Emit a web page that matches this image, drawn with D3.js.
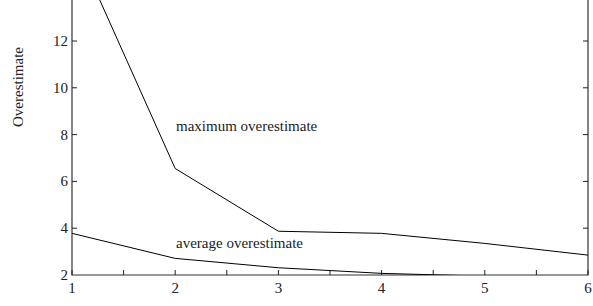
<!DOCTYPE html>
<html>
<head>
<meta charset="utf-8">
<script src="https://cdn.jsdelivr.net/npm/d3@7"></script>
<style>
  body { margin: 0; background: #fff; }
  svg { display: block; font-family: "Liberation Serif", "Times New Roman", serif; }
  text { fill: #222; }
</style>
</head>
<body>
<svg width="593" height="306"></svg>
<script>
// data
var xs = [1, 2, 3, 4, 5, 6];
var maxOver = [16.4, 6.55, 3.87, 3.78, 3.35, 2.85];
var avgOver = [3.78, 2.71, 2.31, 2.07, 1.95, 1.9];
var xTicks = [1, 2, 3, 4, 5, 6];
var xMinor = [1.5, 2.5, 3.5, 4.5, 5.5];
var yTicks = [2, 4, 6, 8, 10, 12];

var svg = d3.select("svg"),
    left = 72, right = 588, bottom = 275;

var x = d3.scaleLinear().domain([1, 6]).range([left, right]);
var y = d3.scaleLinear().domain([2, 12]).range([bottom, 41]);
var plotTop = y(14);

svg.append("defs").append("clipPath").attr("id", "clip")
  .append("rect").attr("x", left).attr("y", plotTop).attr("width", right - left).attr("height", bottom - plotTop);

var g = svg.append("g");

// frame
g.append("path")
  .attr("d", "M" + left + "," + plotTop + "V" + bottom + "H" + right + "V" + plotTop)
  .attr("fill", "none").attr("stroke", "#333").attr("stroke-width", 1.2);

// x ticks, pointing in
g.selectAll(".xt").data(xTicks.concat(xMinor)).enter().append("line")
  .attr("x1", function(d) { return x(d); }).attr("x2", function(d) { return x(d); })
  .attr("y1", bottom).attr("y2", bottom - 5)
  .attr("stroke", "#222");
g.selectAll(".xl").data(xTicks).enter().append("text")
  .attr("x", function(d) { return x(d); }).attr("y", 293)
  .attr("text-anchor", "middle").attr("font-size", 15)
  .text(function(d) { return d; });

// y ticks on both sides
g.selectAll(".yt").data(yTicks.slice(1)).enter().append("line")
  .attr("x1", left).attr("x2", left + 5)
  .attr("y1", function(d) { return y(d); }).attr("y2", function(d) { return y(d); })
  .attr("stroke", "#222");
g.selectAll(".yr").data(yTicks.slice(1)).enter().append("line")
  .attr("x1", right).attr("x2", right - 5)
  .attr("y1", function(d) { return y(d); }).attr("y2", function(d) { return y(d); })
  .attr("stroke", "#222");
g.selectAll(".yl").data(yTicks).enter().append("text")
  .attr("x", 68).attr("y", function(d) { return y(d) + 5; })
  .attr("text-anchor", "end").attr("font-size", 15)
  .text(function(d) { return d; });

g.append("text")
  .attr("transform", "translate(23,87) rotate(-90)")
  .attr("text-anchor", "middle").attr("font-size", 15)
  .text("Overestimate");

// lines
var line = d3.line()
  .x(function(d, i) { return x(xs[i]); })
  .y(function(d) { return y(d); });

var lines = g.append("g").attr("clip-path", "url(#clip)");
[maxOver, avgOver].forEach(function(s) {
  lines.append("path").attr("d", line(s))
    .attr("fill", "none").attr("stroke", "#000").attr("stroke-width", 1);
});

g.append("text").attr("x", 176).attr("y", 131).attr("font-size", 15)
  .text("maximum overestimate");
g.append("text").attr("x", 176).attr("y", 248).attr("font-size", 15)
  .text("average overestimate");
</script>
</body>
</html>
